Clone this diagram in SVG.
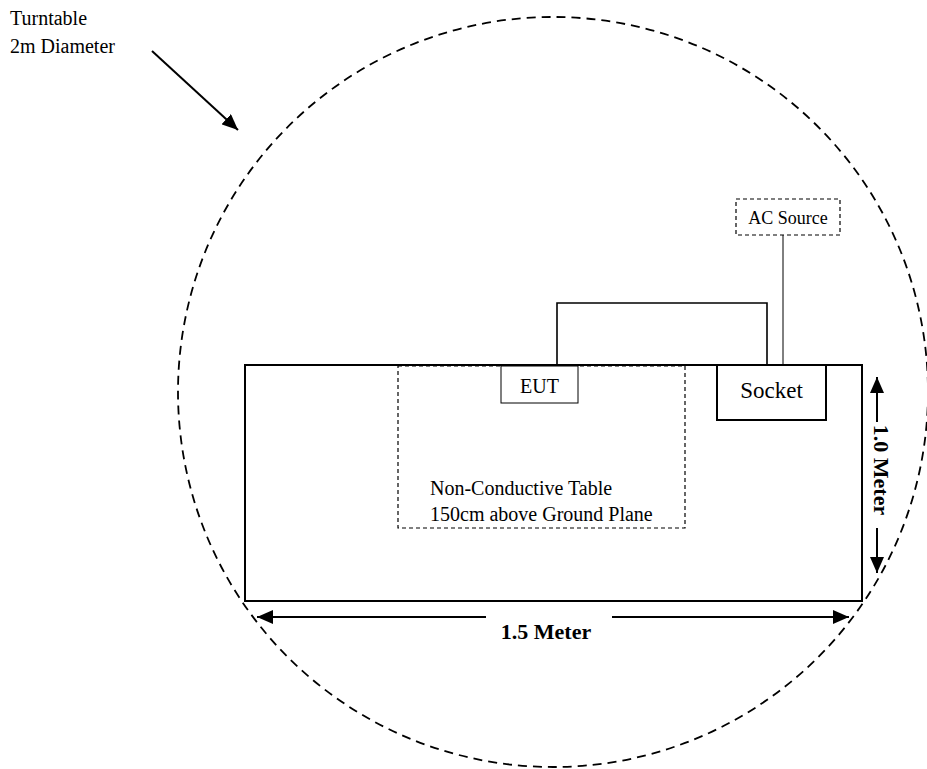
<svg xmlns="http://www.w3.org/2000/svg" width="927" height="769" viewBox="0 0 927 769">
<defs>
<style>
text{font-family:"Liberation Serif","Times New Roman",serif;fill:#000}
.lbl{font-size:20px}
.dim{font-size:22px;font-weight:bold}
.solid{fill:#fff;stroke:#000}
.dash{fill:none;stroke:#000;stroke-width:1.2;stroke-dasharray:4 3}
.wire{fill:none;stroke:#000}
</style>
<marker id="ah" viewBox="0 0 16 14" refX="16" refY="7" markerWidth="16" markerHeight="14" markerUnits="userSpaceOnUse" orient="auto-start-reverse">
<path d="M0,0 L16,7 L0,14 z" fill="#000"/>
</marker>
</defs>
<rect width="927" height="769" fill="#fff"/>
<g id="turntable">
<circle cx="553" cy="392" r="375" fill="none" stroke="#000" stroke-width="1.8" stroke-dasharray="9 6"/>
</g>
<g id="turntable-label">
<text class="lbl" x="10" y="25">Turntable</text>
<text class="lbl" x="10" y="53">2m Diameter</text>
<line x1="152" y1="51" x2="238" y2="130" stroke="#000" stroke-width="2" marker-end="url(#ah)"/>
</g>
<g id="ground-plane">
<rect class="solid" x="245" y="365" width="617" height="236" stroke-width="2"/>
</g>
<g id="non-conductive-table">
<rect class="dash" x="398" y="366" width="287" height="162"/>
<text class="lbl" x="430" y="495">Non-Conductive Table</text>
<text class="lbl" x="430" y="521">150cm above Ground Plane</text>
</g>
<g id="eut">
<rect class="solid" x="501" y="366" width="77" height="37" stroke-width="1"/>
<text class="lbl" x="539.5" y="393" text-anchor="middle">EUT</text>
</g>
<g id="socket">
<rect class="solid" x="717" y="365" width="109" height="55" stroke-width="2"/>
<text x="771.5" y="398" text-anchor="middle" style="font-size:23px">Socket</text>
</g>
<g id="ac-source">
<rect x="736" y="199" width="104" height="36" fill="#fff" stroke="#000" stroke-width="1.2" stroke-dasharray="4 3"/>
<text class="lbl" x="788" y="224" text-anchor="middle" style="font-size:18px">AC Source</text>
</g>
<g id="connectors">
<polyline class="wire" stroke-width="1.6" points="557,366 557,303 767,303 767,365"/>
<line class="wire" stroke-width="1" x1="783" y1="235" x2="783" y2="365"/>
</g>
<g id="dimensions">
<line x1="257" y1="617" x2="486" y2="617" stroke="#000" stroke-width="2" marker-start="url(#ah)"/>
<line x1="612" y1="617" x2="849" y2="617" stroke="#000" stroke-width="2" marker-end="url(#ah)"/>
<text class="dim" x="546" y="639" text-anchor="middle">1.5 Meter</text>
<line x1="877" y1="377" x2="877" y2="422" stroke="#000" stroke-width="2" marker-start="url(#ah)"/>
<line x1="877" y1="528" x2="877" y2="573" stroke="#000" stroke-width="2" marker-end="url(#ah)"/>
<text class="dim" transform="translate(874 470) rotate(90)" text-anchor="middle">1.0 Meter</text>
</g>
</svg>
